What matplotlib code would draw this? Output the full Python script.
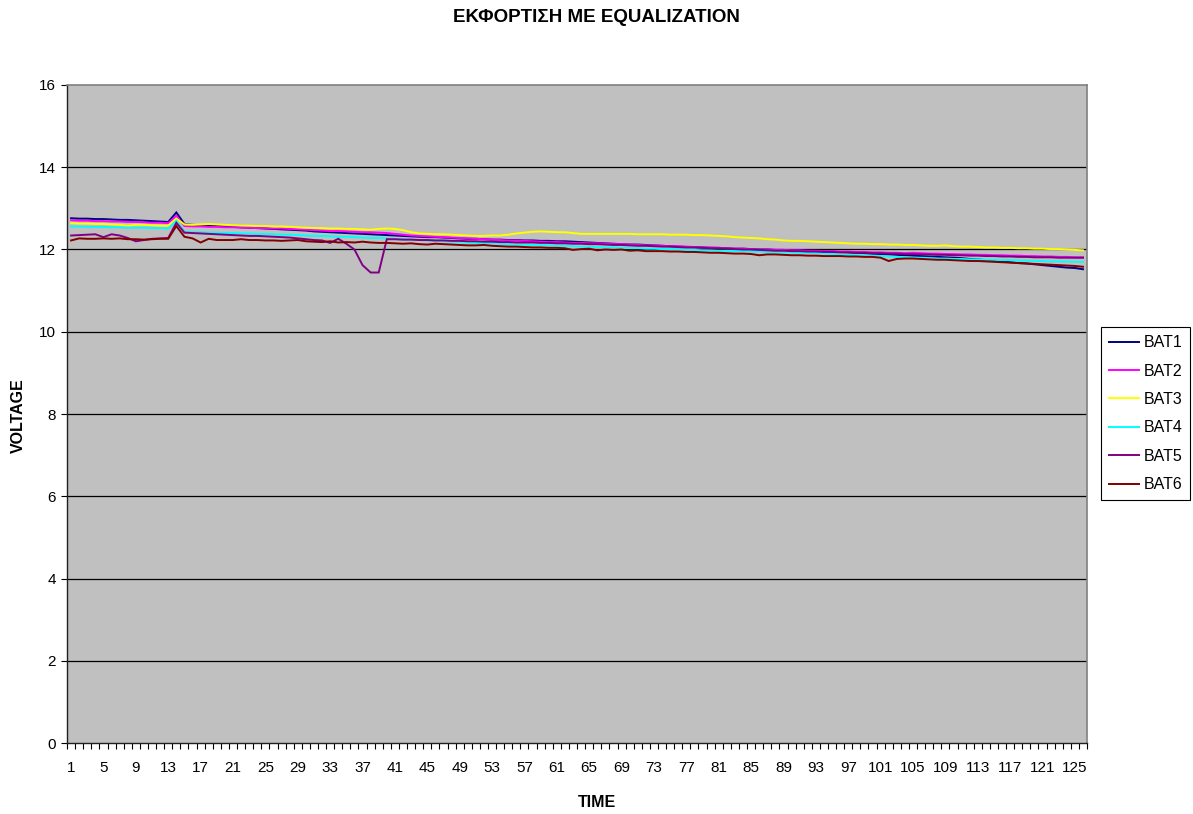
import matplotlib
matplotlib.use("Agg")
import matplotlib.pyplot as plt
import numpy as np

plt.rcParams['font.family'] = ['Liberation Sans', 'DejaVu Sans']

title = "ΕΚΦΟΡΤΙΣΗ ΜΕ EQUALIZATION"
xlabel = "TIME"
ylabel = "VOLTAGE"
series_names = ["BAT1", "BAT2", "BAT3", "BAT4", "BAT5", "BAT6"]
series_colors = ["#000080", "#FF00FF", "#FFFF00", "#00FFFF", "#800080", "#800000"]

bat1 = [12.76, 12.75, 12.75, 12.74, 12.74, 12.73, 12.72, 12.72, 12.71, 12.70,
        12.69, 12.68, 12.67, 12.90, 12.62, 12.60, 12.59, 12.58, 12.57, 12.56,
        12.55, 12.54, 12.53, 12.52, 12.51, 12.50, 12.49, 12.48, 12.47, 12.46,
        12.44, 12.43, 12.42, 12.41, 12.40, 12.39, 12.38, 12.37, 12.36, 12.35,
        12.34, 12.33, 12.32, 12.31, 12.30, 12.30, 12.29, 12.28, 12.27, 12.26,
        12.26, 12.25, 12.24, 12.24, 12.23, 12.23, 12.22, 12.22, 12.21, 12.21,
        12.20, 12.20, 12.19, 12.18, 12.17, 12.16, 12.15, 12.14, 12.13, 12.12,
        12.12, 12.11, 12.10, 12.09, 12.08, 12.07, 12.06, 12.06, 12.05, 12.04,
        12.04, 12.03, 12.02, 12.02, 12.01, 12.00, 12.00, 11.99, 11.99, 11.98,
        11.98, 11.97, 11.96, 11.96, 11.95, 11.94, 11.93, 11.92, 11.91, 11.90,
        11.89, 11.88, 11.87, 11.86, 11.85, 11.84, 11.83, 11.82, 11.81, 11.80,
        11.79, 11.77, 11.76, 11.74, 11.72, 11.71, 11.69, 11.67, 11.66, 11.64,
        11.62, 11.60, 11.58, 11.56, 11.55, 11.52]

bat2 = [12.71, 12.70, 12.70, 12.69, 12.69, 12.68, 12.68, 12.67, 12.67, 12.66,
        12.65, 12.65, 12.64, 12.82, 12.57, 12.56, 12.56, 12.55, 12.55, 12.54,
        12.54, 12.53, 12.53, 12.52, 12.52, 12.51, 12.51, 12.50, 12.49, 12.48,
        12.47, 12.46, 12.45, 12.45, 12.44, 12.43, 12.42, 12.42, 12.41, 12.40,
        12.38, 12.36, 12.34, 12.33, 12.32, 12.31, 12.30, 12.29, 12.28, 12.27,
        12.26, 12.25, 12.24, 12.23, 12.22, 12.22, 12.21, 12.20, 12.19, 12.18,
        12.18, 12.17, 12.16, 12.16, 12.15, 12.15, 12.14, 12.13, 12.13, 12.12,
        12.11, 12.10, 12.10, 12.09, 12.08, 12.08, 12.07, 12.06, 12.05, 12.05,
        12.04, 12.03, 12.02, 12.02, 12.01, 12.00, 12.00, 11.99, 11.99, 11.98,
        11.98, 11.97, 11.97, 11.96, 11.96, 11.95, 11.95, 11.94, 11.94, 11.93,
        11.93, 11.92, 11.92, 11.91, 11.92, 11.91, 11.90, 11.90, 11.89, 11.89,
        11.88, 11.88, 11.87, 11.87, 11.86, 11.86, 11.85, 11.85, 11.84, 11.84,
        11.83, 11.83, 11.82, 11.82, 11.81, 11.81]

bat3 = [12.64, 12.63, 12.63, 12.62, 12.62, 12.61, 12.60, 12.58, 12.60, 12.60,
        12.59, 12.58, 12.58, 12.75, 12.61, 12.60, 12.61, 12.62, 12.61, 12.60,
        12.59, 12.58, 12.58, 12.57, 12.57, 12.56, 12.56, 12.55, 12.54, 12.53,
        12.52, 12.52, 12.51, 12.51, 12.50, 12.50, 12.49, 12.48, 12.50, 12.51,
        12.50, 12.47, 12.42, 12.39, 12.38, 12.37, 12.37, 12.36, 12.35, 12.34,
        12.33, 12.33, 12.34, 12.34, 12.36, 12.39, 12.41, 12.43, 12.44, 12.43,
        12.42, 12.42, 12.40, 12.38, 12.38, 12.38, 12.38, 12.38, 12.38, 12.38,
        12.37, 12.37, 12.37, 12.37, 12.36, 12.36, 12.36, 12.35, 12.35, 12.34,
        12.33, 12.32, 12.30, 12.29, 12.28, 12.27, 12.25, 12.24, 12.22, 12.21,
        12.21, 12.20, 12.19, 12.18, 12.17, 12.16, 12.15, 12.14, 12.14, 12.13,
        12.13, 12.12, 12.12, 12.11, 12.11, 12.10, 12.09, 12.09, 12.10, 12.08,
        12.07, 12.07, 12.06, 12.05, 12.05, 12.04, 12.04, 12.03, 12.03, 12.02,
        12.02, 12.01, 12.01, 12.00, 11.99, 11.98]

bat4 = [12.56, 12.56, 12.55, 12.55, 12.55, 12.54, 12.54, 12.53, 12.53, 12.53,
        12.52, 12.52, 12.51, 12.70, 12.43, 12.42, 12.42, 12.41, 12.41, 12.40,
        12.40, 12.39, 12.39, 12.38, 12.38, 12.37, 12.36, 12.36, 12.35, 12.34,
        12.33, 12.33, 12.32, 12.31, 12.31, 12.30, 12.29, 12.28, 12.28, 12.27,
        12.26, 12.25, 12.24, 12.23, 12.22, 12.21, 12.20, 12.19, 12.18, 12.17,
        12.16, 12.15, 12.15, 12.14, 12.13, 12.12, 12.12, 12.11, 12.10, 12.10,
        12.09, 12.09, 12.08, 12.07, 12.07, 12.06, 12.05, 12.05, 12.04, 12.03,
        12.03, 12.02, 12.02, 12.01, 12.01, 12.00, 11.99, 11.99, 11.98, 11.98,
        11.97, 11.97, 11.96, 11.96, 11.95, 11.95, 11.94, 11.94, 11.93, 11.93,
        11.92, 11.92, 11.91, 11.90, 11.89, 11.88, 11.87, 11.86, 11.85, 11.84,
        11.84, 11.83, 11.82, 11.81, 11.80, 11.80, 11.79, 11.78, 11.78, 11.77,
        11.77, 11.76, 11.76, 11.75, 11.75, 11.74, 11.74, 11.73, 11.73, 11.72,
        11.72, 11.71, 11.71, 11.71, 11.70, 11.70]

bat5 = [12.34, 12.35, 12.36, 12.37, 12.30, 12.37, 12.34, 12.28, 12.20, 12.23,
        12.26, 12.27, 12.28, 12.65, 12.41, 12.40, 12.39, 12.38, 12.37, 12.36,
        12.35, 12.34, 12.33, 12.33, 12.32, 12.31, 12.30, 12.29, 12.27, 12.25,
        12.23, 12.22, 12.16, 12.26, 12.14, 12.00, 11.62, 11.44, 11.44, 12.25,
        12.25, 12.24, 12.24, 12.23, 12.23, 12.22, 12.22, 12.21, 12.21, 12.20,
        12.20, 12.19, 12.19, 12.18, 12.18, 12.17, 12.17, 12.17, 12.16, 12.16,
        12.15, 12.15, 12.14, 12.14, 12.13, 12.13, 12.12, 12.11, 12.11, 12.10,
        12.09, 12.09, 12.08, 12.07, 12.07, 12.06, 12.05, 12.05, 12.04, 12.03,
        12.03, 12.02, 12.01, 12.00, 12.00, 11.99, 11.98, 11.97, 11.97, 11.96,
        11.96, 11.95, 11.95, 11.94, 11.94, 11.93, 11.93, 11.92, 11.92, 11.91,
        11.91, 11.90, 11.90, 11.89, 11.89, 11.88, 11.88, 11.87, 11.87, 11.86,
        11.86, 11.85, 11.85, 11.84, 11.84, 11.83, 11.83, 11.82, 11.82, 11.81,
        11.81, 11.81, 11.80, 11.80, 11.80, 11.80]

bat6 = [12.22, 12.27, 12.26, 12.26, 12.27, 12.26, 12.27, 12.25, 12.25, 12.24,
        12.25, 12.26, 12.26, 12.57, 12.31, 12.27, 12.17, 12.26, 12.23, 12.23,
        12.23, 12.25, 12.23, 12.23, 12.22, 12.22, 12.21, 12.22, 12.23, 12.20,
        12.19, 12.18, 12.20, 12.17, 12.18, 12.17, 12.19, 12.17, 12.16, 12.16,
        12.15, 12.14, 12.15, 12.13, 12.12, 12.14, 12.13, 12.12, 12.11, 12.10,
        12.10, 12.11, 12.09, 12.08, 12.07, 12.07, 12.06, 12.05, 12.05, 12.04,
        12.04, 12.03, 11.99, 12.01, 12.02, 11.98, 12.00, 11.99, 12.00, 11.97,
        11.98, 11.96, 11.96, 11.96, 11.95, 11.95, 11.94, 11.94, 11.93, 11.92,
        11.92, 11.91, 11.90, 11.90, 11.89, 11.86, 11.88, 11.88, 11.87, 11.86,
        11.86, 11.85, 11.85, 11.84, 11.84, 11.84, 11.83, 11.83, 11.82, 11.82,
        11.80, 11.72, 11.77, 11.78, 11.78, 11.77, 11.76, 11.75, 11.75, 11.74,
        11.73, 11.72, 11.72, 11.71, 11.70, 11.69, 11.68, 11.67, 11.66, 11.65,
        11.64, 11.63, 11.62, 11.61, 11.60, 11.58]

series = [bat1, bat2, bat3, bat4, bat5, bat6]
time = np.arange(1, len(bat1) + 1)
xtick_labels = [str(t) for t in time[::4]]
yticks = [0, 2, 4, 6, 8, 10, 12, 14, 16]

fig = plt.figure(figsize=(11.93, 8.14), dpi=100)
ax = fig.add_axes([0.0562, 0.0872, 0.855, 0.8084])
ax.set_facecolor("#C0C0C0")

for name, vals, col in zip(series_names, series, series_colors):
    ax.plot(time, vals, color=col, lw=1.4, label=name, solid_joinstyle='miter')

ax.set_xlim(0.5, len(time) + 0.5)
ax.set_ylim(0, 16)
ax.set_yticks(yticks)
ax.set_yticklabels([str(v) for v in yticks], fontsize=11)
for y in yticks[1:-1]:
    ax.axhline(y, color="black", lw=0.9, zorder=0.5)

ax.set_xticks(time[::4])
ax.set_xticklabels(xtick_labels, fontsize=11)
ax.set_xticks(np.arange(0.5, len(time) + 1, 1), minor=True)
ax.tick_params(axis='x', which='major', length=0, pad=13)
ax.tick_params(axis='x', which='minor', length=4, width=0.8, direction='out', color='black')
ax.tick_params(axis='y', which='major', length=4, width=0.8, direction='out', pad=4)

for s in ['left', 'bottom']:
    ax.spines[s].set_color('#202020')
    ax.spines[s].set_linewidth(1.0)
for s in ['top', 'right']:
    ax.spines[s].set_color('#808080')
    ax.spines[s].set_linewidth(1.2)

fig.text(0.5, 0.979, title, ha='center', va='center', fontsize=13.5, fontweight='bold')
fig.text(0.5, 0.014, xlabel, ha='center', va='center', fontsize=11.5, fontweight='bold')
fig.text(0.0155, 0.49, ylabel, ha='center', va='center', rotation=90, fontsize=11.5, fontweight='bold')

leg = fig.legend(loc='upper left', bbox_to_anchor=(0.923, 0.598), fontsize=11.5,
                 frameon=True, fancybox=False, edgecolor='black', framealpha=1,
                 borderaxespad=0, handlelength=1.85, handletextpad=0.3,
                 labelspacing=0.84, borderpad=0.5)
leg.get_frame().set_linewidth(0.8)

fig.savefig("out.png", dpi=100)
